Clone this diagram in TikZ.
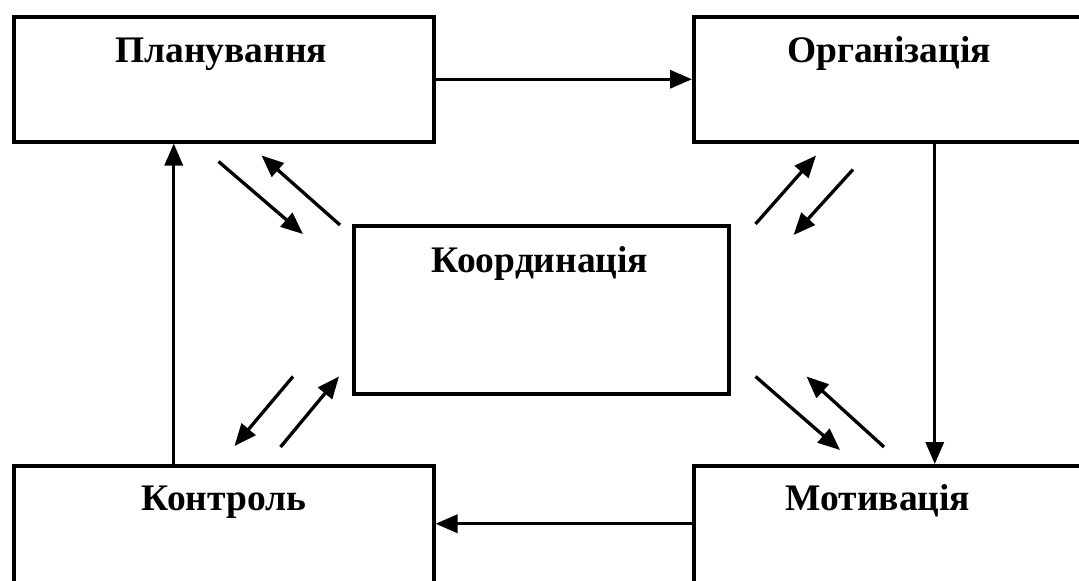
\documentclass[tikz,border=0pt]{standalone}
\usepackage{fontspec}
\setmainfont{Liberation Serif}
\usetikzlibrary{positioning, arrows.meta}

\tikzset{
  block/.style={draw, line width=3.5pt, rectangle, inner sep=0pt, anchor=north west},
  lbl/.style={font=\fontsize{37.5}{40}\selectfont\bfseries, anchor=base, inner sep=0pt},
  flow/.style={line width=3.3pt, -{Triangle[length=22pt, width=18pt]}}
}

\begin{document}
\begin{tikzpicture}[x=1pt, y=-1pt]
  \useasboundingbox (0,0) rectangle (1079,581);
  \clip (0,0) rectangle (1079,581);

  % Blocks
  \node[block, minimum width=420pt, minimum height=125pt] (plan) at (12,15) {};
  \node[block, minimum width=482pt, minimum height=125pt] (org)  at (692,15) {};
  \node[block, minimum width=375pt, minimum height=168pt] (coord) at (352,224) {};
  \node[block, minimum width=420pt, minimum height=140pt] (ctrl) at (12,464) {};
  \node[block, minimum width=482pt, minimum height=140pt] (motiv) at (692,464) {};

  % Labels
  \node[lbl] (plan-t)  at (221,62)  {Планування};
  \node[lbl] (org-t)   at (889,62)  {Організація};
  \node[lbl] (coord-t) at (540,272) {Координація};
  \node[lbl] (ctrl-t)  at (224,510) {Контроль};
  \node[lbl] (motiv-t) at (878,510) {Мотивація};

  % Cycle
  \draw[flow] (plan.east) -- (org.west);
  \draw[flow] (org.south) -- (motiv.north);
  \draw[flow] ([yshift=12pt]motiv.west) -- ([yshift=12pt]ctrl.east);
  \draw[flow] ([xshift=-50pt]ctrl.north) -- ([xshift=-50pt]plan.south);

  % Links to coordination
  \draw[flow] ([shift={(-217,18)}]plan.south east) -- ([shift={(-49,10)}]coord.north west);
  \draw[flow] ([shift={(-12,1)}]coord.north west) -- ([shift={(-174,12)}]plan.south east);
  \draw[flow] ([shift={(25,0)}]coord.north east) -- ([shift={(124,12)}]org.south west);
  \draw[flow] ([shift={(161,26)}]org.south west) -- ([shift={(63,11)}]coord.north east);
  \draw[flow] ([shift={(-59,-19)}]coord.south west) -- ([shift={(-201,-18)}]ctrl.north east);
  \draw[flow] ([shift={(-155,-17)}]ctrl.north east) -- ([shift={(-13,-19)}]coord.south west);
  \draw[flow] ([shift={(25,-19)}]coord.south east) -- ([shift={(148,-14)}]motiv.north west);
  \draw[flow] ([shift={(192,-17)}]motiv.north west) -- ([shift={(76,-19)}]coord.south east);
\end{tikzpicture}
\end{document}
